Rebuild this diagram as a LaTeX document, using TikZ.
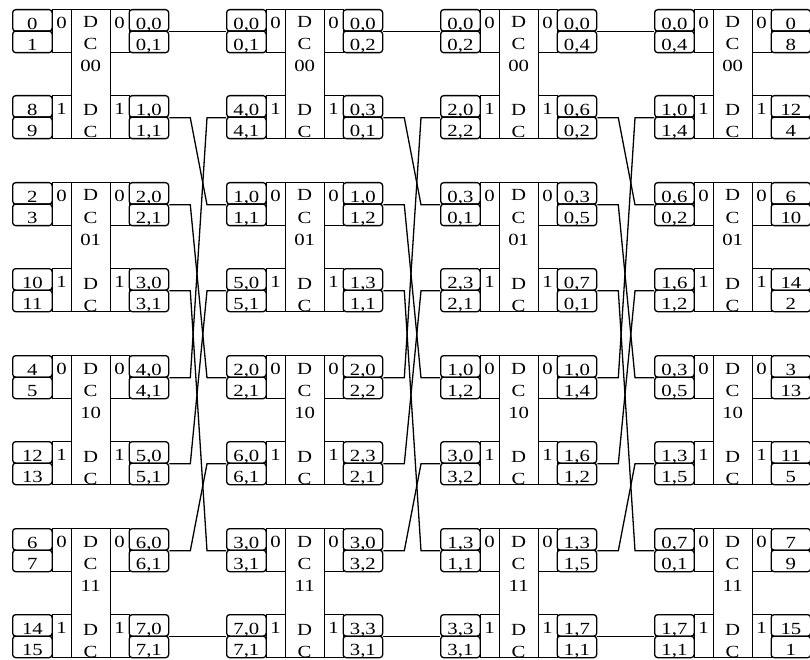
\documentclass[tikz,border=0pt]{standalone}
\usepackage{fontspec}
\setmainfont{Liberation Serif}
\usepackage{graphicx}

\newcommand\wide[1]{\scalebox{1.22}[1]{#1}}
% one port = two stacked boxes, labels given as a/b
\newcommand\dcport[4]{\dcportsplit{#1}{#2}{#3}#4\relax}
\def\dcportsplit#1#2#3#4/#5\relax{%
  \node[portbox] (#1) at (#2,#3) {\wide{#4}};
  \node[portbox] (#1b) at (#2,#3+21.5) {\wide{#5}};}
% one switch: name, x, y, id, left upper, left lower, right upper, right lower
\newcommand\dcswitch[8]{%
  \dcport{#1-lu}{#2}{#3}{#5}
  \dcport{#1-ll}{#2}{#3+86}{#6}
  \node[bitbox] (#1-li0) at (#2+39.5,#3) {\wide{0}};
  \node[bitbox] (#1-li1) at (#2+39.5,#3+86) {\wide{1}};
  \node[corebox] (#1) at (#2+58.5,#3) {};
  \begin{scope}
    \clip (#1.north west) rectangle (#1.south east);
    \node[coretext] at ([yshift=-19pt]#1.north)
      {\wide{\begin{tabular}[t]{@{}c@{}}D\\C\\#4\\ \\D\\C\end{tabular}}};
  \end{scope}
  \node[bitbox] (#1-ro0) at (#2+97.5,#3) {\wide{0}};
  \node[bitbox] (#1-ro1) at (#2+97.5,#3+86) {\wide{1}};
  \dcport{#1-ru}{#2+116.5}{#3}{#7}
  \dcport{#1-rl}{#2+116.5}{#3+86}{#8}}

\begin{document}
\begin{tikzpicture}[x=1pt, y=-1pt, line width=1.3pt,
  font=\fontsize{17}{22}\selectfont,
  portbox/.style={draw, rounded corners=3pt, anchor=north west, inner sep=0pt,
                  minimum width=39.5pt, text height=19.5pt, text depth=2pt},
  bitbox/.style={draw, anchor=north west, inner sep=0pt,
                 minimum width=19pt, text height=19pt, text depth=24pt},
  corebox/.style={draw, anchor=north west, inner sep=0pt,
                  minimum width=39pt, minimum height=129pt},
  coretext/.style={anchor=base, inner sep=0pt},
  link/.style={to path={-- ++(21,0) -- ([xshift=-19pt]\tikztotarget) -- (\tikztotarget)}},
]
\useasboundingbox (0,0) rectangle (810,660);

% === Stage 1 ===
\dcswitch{s1r0}{12}{9}{00}{0/1}{8/9}{0,0/0,1}{1,0/1,1}
\dcswitch{s1r1}{12}{182}{01}{2/3}{10/11}{2,0/2,1}{3,0/3,1}
\dcswitch{s1r2}{12}{355}{10}{4/5}{12/13}{4,0/4,1}{5,0/5,1}
\dcswitch{s1r3}{12}{528}{11}{6/7}{14/15}{6,0/6,1}{7,0/7,1}

% === Stage 2 ===
\dcswitch{s2r0}{226}{9}{00}{0,0/0,1}{4,0/4,1}{0,0/0,2}{0,3/0,1}
\dcswitch{s2r1}{226}{182}{01}{1,0/1,1}{5,0/5,1}{1,0/1,2}{1,3/1,1}
\dcswitch{s2r2}{226}{355}{10}{2,0/2,1}{6,0/6,1}{2,0/2,2}{2,3/2,1}
\dcswitch{s2r3}{226}{528}{11}{3,0/3,1}{7,0/7,1}{3,0/3,2}{3,3/3,1}

% === Stage 3 ===
\dcswitch{s3r0}{440}{9}{00}{0,0/0,2}{2,0/2,2}{0,0/0,4}{0,6/0,2}
\dcswitch{s3r1}{440}{182}{01}{0,3/0,1}{2,3/2,1}{0,3/0,5}{0,7/0,1}
\dcswitch{s3r2}{440}{355}{10}{1,0/1,2}{3,0/3,2}{1,0/1,4}{1,6/1,2}
\dcswitch{s3r3}{440}{528}{11}{1,3/1,1}{3,3/3,1}{1,3/1,5}{1,7/1,1}

% === Stage 4 ===
\dcswitch{s4r0}{654}{9}{00}{0,0/0,4}{1,0/1,4}{0/8}{12/4}
\dcswitch{s4r1}{654}{182}{01}{0,6/0,2}{1,6/1,2}{6/10}{14/2}
\dcswitch{s4r2}{654}{355}{10}{0,3/0,5}{1,3/1,5}{3/13}{11/5}
\dcswitch{s4r3}{654}{528}{11}{0,7/0,1}{1,7/1,1}{7/9}{15/1}

% === Links: stage 1 -> 2 ===
\draw[link] (s1r0-ru.south east) to (s2r0-lu.south west);
\draw[link] (s1r0-rl.south east) to (s2r1-lu.south west);
\draw[link] (s1r1-ru.south east) to (s2r2-lu.south west);
\draw[link] (s1r1-rl.south east) to (s2r3-lu.south west);
\draw[link] (s1r2-ru.south east) to (s2r0-ll.south west);
\draw[link] (s1r2-rl.south east) to (s2r1-ll.south west);
\draw[link] (s1r3-ru.south east) to (s2r2-ll.south west);
\draw[link] (s1r3-rl.south east) to (s2r3-ll.south west);

% === Links: stage 2 -> 3 ===
\draw[link] (s2r0-ru.south east) to (s3r0-lu.south west);
\draw[link] (s2r0-rl.south east) to (s3r1-lu.south west);
\draw[link] (s2r1-ru.south east) to (s3r2-lu.south west);
\draw[link] (s2r1-rl.south east) to (s3r3-lu.south west);
\draw[link] (s2r2-ru.south east) to (s3r0-ll.south west);
\draw[link] (s2r2-rl.south east) to (s3r1-ll.south west);
\draw[link] (s2r3-ru.south east) to (s3r2-ll.south west);
\draw[link] (s2r3-rl.south east) to (s3r3-ll.south west);

% === Links: stage 3 -> 4 ===
\draw[link] (s3r0-ru.south east) to (s4r0-lu.south west);
\draw[link] (s3r0-rl.south east) to (s4r1-lu.south west);
\draw[link] (s3r1-ru.south east) to (s4r2-lu.south west);
\draw[link] (s3r1-rl.south east) to (s4r3-lu.south west);
\draw[link] (s3r2-ru.south east) to (s4r0-ll.south west);
\draw[link] (s3r2-rl.south east) to (s4r1-ll.south west);
\draw[link] (s3r3-ru.south east) to (s4r2-ll.south west);
\draw[link] (s3r3-rl.south east) to (s4r3-ll.south west);

\end{tikzpicture}
\end{document}
